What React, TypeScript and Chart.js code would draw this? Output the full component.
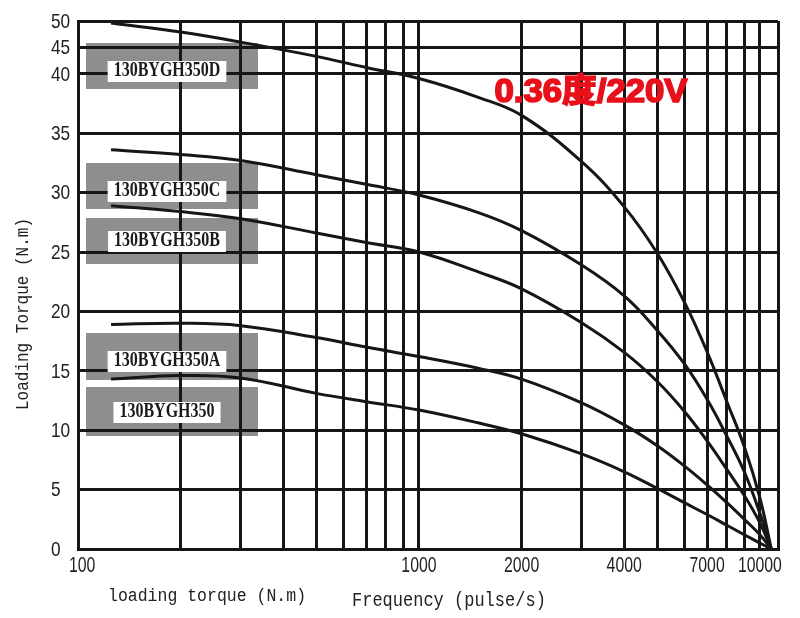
import { useEffect, useRef } from 'react';
import { Chart, registerables, LinearScale } from 'chart.js';

// frequency samples shared by all curves (pulse/s)
const frequency = [125, 200, 300, 500, 700, 1000, 1500, 2000, 3000, 4000, 5000, 6000, 7000, 8000, 9000, 10000, 10800];

// loading torque (N.m)
const torque350D = [49.6, 47.9, 46.0, 43.3, 41.2, 39.6, 38.0, 36.5, 32.6, 28.8, 24.9, 20.8, 16.6, 12.4, 8.6, 4.3, 0];
const torque350C = [33.6, 33.2, 32.7, 31.5, 30.7, 29.8, 28.3, 26.8, 23.9, 21.3, 18.4, 15.6, 12.6, 9.5, 6.5, 3.0, 0];
const torque350B = [28.9, 28.4, 27.8, 26.6, 25.8, 25.0, 23.3, 21.9, 19.05, 16.55, 14.1, 11.6, 9.1, 6.7, 4.5, 2.2, 0];
const torque350A = [18.9, 19.0, 18.8, 17.8, 17.0, 16.2, 15.2, 14.3, 12.3, 10.45, 8.7, 7.0, 5.4, 3.9, 2.5, 1.2, 0];
const torque350 = [14.3, 14.6, 14.4, 13.1, 12.4, 11.7, 10.6, 9.7, 8.0, 6.5, 5.1, 3.9, 2.9, 2.0, 1.2, 0.5, 0];

const models = ['130BYGH350D', '130BYGH350C', '130BYGH350B', '130BYGH350A', '130BYGH350'];
const series = [torque350D, torque350C, torque350B, torque350A, torque350];

// grid lines on the log axis, and the ones that carry a label
const xGridTicks = [100, 200, 300, 400, 500, 600, 700, 800, 900, 1000, 2000, 3000, 4000, 5000, 6000, 7000, 8000, 9000, 10000, 11300];
const xLabelTicks = [100, 1000, 2000, 4000, 7000, 10000];
const yTicks = [0, 5, 10, 15, 20, 25, 30, 35, 40, 45, 50];

// the torque axis is squeezed above 40
const Y_BREAK = 40;
const Y_BREAK_FRAC = 0.9;

const INK = '#161616';
const TEXT = '#222';
const sansFamily = "'Liberation Sans', Arial, sans-serif";
const monoFamily = "'Liberation Mono', 'DejaVu Sans Mono', monospace";

// label box layout (pixels): gray top, gray height, text centre
const labelBoxes = [
  { top: 43, h: 46, ty: 71 },
  { top: 163, h: 46, ty: 191 },
  { top: 218, h: 46, ty: 241 },
  { top: 333, h: 47, ty: 361 },
  { top: 387, h: 49, ty: 412 },
];

class SplitLinearScale extends LinearScale {
  static id = 'splitLinear';
  static defaults = LinearScale.defaults;

  toDecimal(v: number) {
    if (v <= Y_BREAK) return (v / Y_BREAK) * Y_BREAK_FRAC;
    return Y_BREAK_FRAC + ((v - Y_BREAK) / (this.max - Y_BREAK)) * (1 - Y_BREAK_FRAC);
  }

  getPixelForValue(value: any) {
    if (value === null || value === undefined) return NaN;
    return this.getPixelForDecimal(this.toDecimal(value));
  }

  getValueForPixel(pixel: number) {
    const d = this.getDecimalForPixel(pixel);
    if (d <= Y_BREAK_FRAC) return (d / Y_BREAK_FRAC) * Y_BREAK;
    return Y_BREAK + ((d - Y_BREAK_FRAC) / (1 - Y_BREAK_FRAC)) * (this.max - Y_BREAK);
  }
}

Chart.register(...registerables, SplitLinearScale);

// narrow text: the original uses a condensed face we don't have
function narrowText(ctx: CanvasRenderingContext2D, text: string, x: number, y: number, sx: number, sy: number, align: CanvasTextAlign) {
  ctx.save();
  ctx.translate(x, y);
  ctx.scale(sx, sy);
  ctx.textAlign = align;
  ctx.textBaseline = 'middle';
  ctx.fillText(text, 0, 0);
  ctx.restore();
}

const annotations = {
  id: 'annotations',
  beforeDraw(chart: any) {
    const { ctx } = chart;
    ctx.save();
    ctx.fillStyle = '#8e8e8e';
    labelBoxes.forEach((b) => ctx.fillRect(86, b.top, 172, b.h));
    ctx.restore();
  },
  beforeDatasetsDraw(chart: any) {
    const { ctx } = chart;
    ctx.save();
    ctx.font = "bold 16px 'Liberation Serif', 'DejaVu Serif', serif";
    models.forEach((name, i) => {
      const b = labelBoxes[i];
      const w = ctx.measureText(name).width + 12;
      ctx.fillStyle = '#ffffff';
      ctx.fillRect(167 - w / 2, b.ty - 10, w, 21);
      ctx.fillStyle = '#1a1a1a';
      narrowText(ctx, name, 167, b.ty, 1, 1.28, 'center');
    });
    ctx.restore();
  },
  afterDraw(chart: any) {
    const { ctx, chartArea } = chart;
    const xs = chart.scales.x;
    const ys = chart.scales.y;
    ctx.save();

    // tick labels, placed by the scales
    ctx.fillStyle = TEXT;
    ctx.font = `21px ${sansFamily}`;
    ys.ticks.forEach((t: any) => {
      narrowText(ctx, String(t.value), 51, ys.getPixelForValue(t.value) + 1, 0.82, 1, 'left');
    });
    ctx.font = `22px ${sansFamily}`;
    xLabelTicks.forEach((v) => {
      const label = String(v);
      const w = ctx.measureText(label).width * 0.72;
      let cx = xs.getPixelForValue(v);
      cx = Math.max(cx, chartArea.left - 9 + w / 2);
      cx = Math.min(cx, chartArea.right + 11 - w / 2);
      narrowText(ctx, label, cx, chartArea.bottom + 17, 0.72, 1, 'center');
    });

    // red headline
    ctx.save();
    ctx.translate(591, 93);
    ctx.scale(1.12, 1.05);
    ctx.font = "bold 31px 'Liberation Sans', 'Noto Sans CJK SC', sans-serif";
    ctx.textAlign = 'center';
    ctx.textBaseline = 'middle';
    ctx.fillStyle = '#e8101a';
    ctx.strokeStyle = '#e8101a';
    ctx.lineWidth = 1.6;
    ctx.fillText('0.36度/220V', 0, 0);
    ctx.strokeText('0.36度/220V', 0, 0);
    ctx.restore();

    // axis titles
    ctx.fillStyle = TEXT;
    ctx.font = `16.5px ${monoFamily}`;
    narrowText(ctx, 'loading torque (N.m)', 108, 596, 1, 1.15, 'left');
    ctx.font = `17px ${monoFamily}`;
    narrowText(ctx, 'Frequency (pulse/s)', 352, 601, 1, 1.15, 'left');

    ctx.save();
    ctx.translate(23, 314);
    ctx.rotate(-Math.PI / 2);
    ctx.font = `16px ${monoFamily}`;
    narrowText(ctx, 'Loading Torque (N.m)', 0, 0, 1, 1.15, 'center');
    ctx.restore();

    ctx.restore();
  },
};

export default function App() {
  const canvasRef = useRef<HTMLCanvasElement>(null);

  useEffect(() => {
    if (!canvasRef.current) return;

    const datasets = series.map((torque, i) => ({
      label: models[i],
      data: frequency.map((f, j) => ({ x: f, y: torque[j] })),
      borderColor: INK,
      borderWidth: 3,
      pointRadius: 0,
      fill: false,
      tension: 0.4,
    }));

    const chart = new Chart(canvasRef.current, {
      type: 'line',
      data: { datasets },
      options: {
        animation: false,
        responsive: true,
        maintainAspectRatio: false,
        layout: { padding: { left: 51, top: 21, right: 22, bottom: 0 } },
        plugins: {
          legend: { display: false },
          tooltip: { enabled: false },
        },
        scales: {
          x: {
            type: 'logarithmic',
            min: 100,
            max: 11300,
            afterBuildTicks: (s: any) => {
              s.ticks = xGridTicks.map((v) => ({ value: v }));
            },
            afterFit: (s: any) => {
              s.height = 69;
            },
            grid: { color: INK, lineWidth: 3, drawTicks: false },
            border: { display: true, color: INK, width: 3 },
            ticks: { display: false, autoSkip: false },
          },
          y: {
            type: 'splitLinear' as any,
            min: 0,
            max: 50,
            afterBuildTicks: (s: any) => {
              s.ticks = yTicks.map((v) => ({ value: v }));
            },
            afterFit: (s: any) => {
              s.width = 27;
            },
            grid: { color: INK, lineWidth: 3, drawTicks: false },
            border: { display: true, color: INK, width: 3 },
            ticks: { display: false, autoSkip: false },
          },
        },
      },
      plugins: [annotations],
    });

    return () => chart.destroy();
  }, []);

  return (
    <div style={{ position: 'fixed', left: 0, top: 0, width: 800, height: 618, background: '#fff' }}>
      <canvas ref={canvasRef} />
    </div>
  );
}
